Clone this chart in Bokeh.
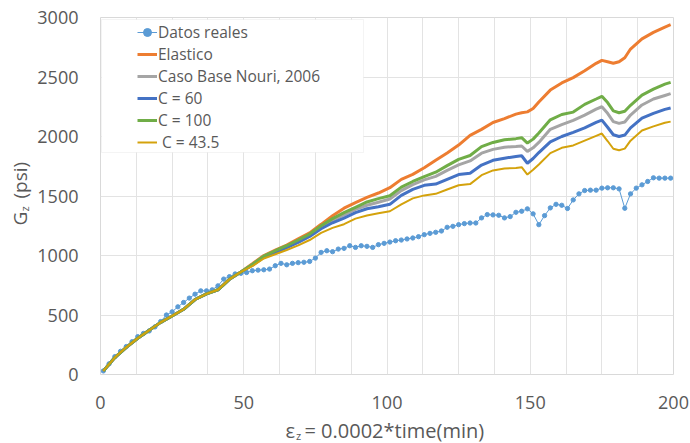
import math
from bokeh.plotting import figure
from bokeh.layouts import row, column
from bokeh.models import (Range1d, FixedTicker, Legend, LegendItem,
                          BoxAnnotation)
from bokeh.core.properties import value
from bokeh.embed import file_html
from bokeh.resources import INLINE

# ---------------- data ----------------
x_real = list(range(1, 200, 2))
g_real = [30, 90, 150, 195, 235, 275, 318, 345, 366, 400,
          445, 500, 527, 569, 605, 642, 675, 703, 703, 712,
          745, 802, 822, 845, 850, 857, 872, 877, 880, 886,
          914, 934, 922, 934, 940, 943, 950, 978, 1026, 1040,
          1032, 1054, 1060, 1082, 1068, 1082, 1077, 1068, 1091, 1102,
          1113, 1124, 1130, 1139, 1147, 1158, 1175, 1186, 1195, 1206,
          1237, 1245, 1259, 1268, 1273, 1273, 1316, 1344, 1341, 1338,
          1316, 1327, 1363, 1372, 1392, 1350, 1259, 1335, 1400, 1430,
          1422, 1395, 1467, 1518, 1546, 1549, 1549, 1566, 1569, 1569,
          1560, 1397, 1518, 1566, 1594, 1622, 1653, 1650, 1650, 1650]

x_sim = [1, 5, 9, 13, 17, 21, 25, 29, 33, 37, 41, 45, 49,
         53, 57, 61, 65, 69, 73, 77, 81, 85, 89, 93, 97, 101, 105, 109,
         113, 117, 121, 125, 129, 133, 137, 141,
         145, 147, 149, 151, 153,
         157, 161, 165, 169, 173,
         175, 177, 179, 181, 183, 185,
         189, 193, 197, 199]

g_elastico = [30, 142, 228, 305, 372, 438, 492, 548, 630, 678, 712, 800, 862,
              930, 1000, 1045, 1088, 1140, 1190, 1262, 1335, 1398, 1445, 1488, 1525, 1570, 1640, 1682,
              1738, 1800, 1862, 1928, 2010, 2060, 2118, 2150,
              2188, 2200, 2207, 2235, 2290,
              2390, 2450, 2495, 2552, 2615,
              2640, 2628, 2615, 2628, 2662, 2735,
              2820, 2875, 2920, 2940]

g_nouri = [30, 142, 228, 305, 372, 438, 492, 548, 630, 678, 712, 800, 862,
           922, 992, 1035, 1076, 1122, 1170, 1240, 1295, 1342, 1388, 1422, 1448, 1475, 1545, 1596,
           1635, 1665, 1715, 1762, 1795, 1860, 1892, 1910,
           1916, 1920, 1875, 1905, 1950,
           2060, 2100, 2135, 2180, 2230,
           2250, 2195, 2125, 2110, 2122, 2180,
           2265, 2315, 2345, 2360]

g_c60 = [30, 142, 228, 305, 372, 438, 492, 548, 630, 678, 712, 800, 862,
         918, 985, 1025, 1066, 1110, 1160, 1225, 1275, 1314, 1360, 1393, 1410, 1430, 1505, 1556,
         1590, 1600, 1640, 1680, 1692, 1760, 1800, 1818,
         1832, 1838, 1775, 1815, 1865,
         1955, 2000, 2035, 2072, 2118,
         2138, 2078, 2015, 2000, 2012, 2072,
         2155, 2195, 2228, 2240]

g_c100 = [30, 142, 228, 305, 372, 438, 492, 548, 630, 678, 712, 800, 862,
          925, 995, 1040, 1082, 1130, 1180, 1250, 1310, 1360, 1405, 1450, 1478, 1502, 1575, 1622,
          1662, 1700, 1755, 1808, 1840, 1915, 1950, 1972,
          1982, 1990, 1945, 1978, 2030,
          2140, 2185, 2205, 2270, 2315,
          2338, 2285, 2215, 2200, 2212, 2262,
          2348, 2398, 2440, 2455]

g_c435 = [30, 142, 228, 305, 372, 438, 492, 548, 630, 678, 712, 800, 862,
          910, 975, 1010, 1046, 1085, 1130, 1190, 1232, 1263, 1310, 1336, 1355, 1372, 1430, 1480,
          1505, 1518, 1555, 1590, 1600, 1675, 1715, 1732,
          1736, 1742, 1680, 1720, 1765,
          1860, 1905, 1925, 1965, 2005,
          2025, 1962, 1897, 1885, 1898, 1965,
          2050, 2085, 2115, 2125]

series_names = ["Datos reales", "Elastico", "Caso Base Nouri, 2006",
                "C = 60", "C = 100", " C = 43.5"]
x_ticks = [0, 50, 100, 150, 200]
y_ticks = [0, 500, 1000, 1500, 2000, 2500, 3000]
x_grid = [i * 12.5 for i in range(17)]

# ---------------- style ----------------
FONT = "Open Sans"
TXT = "#595959"
GRID = "#e3e3e3"
LEFT = 67
RIGHT = 17

p = figure(width=657, height=418, output_backend="svg", toolbar_location=None,
           x_range=Range1d(0, 200), y_range=Range1d(0, 3000),
           min_border_left=LEFT, min_border_right=RIGHT,
           min_border_top=17, min_border_bottom=44)
p.background_fill_color = "white"
p.border_fill_color = "white"
p.outline_line_color = "#d9d9d9"

for ax in (p.xaxis[0], p.yaxis[0]):
    ax.axis_line_color = None
    ax.major_tick_line_color = None
    ax.minor_tick_line_color = None
    ax.major_tick_out = 0
    ax.major_tick_in = 0
    ax.minor_tick_out = 0
    ax.minor_tick_in = 0
    ax.major_label_text_font = FONT
    ax.major_label_text_font_size = "18px"
    ax.major_label_text_color = TXT
p.xaxis.major_label_standoff = 21
p.yaxis.major_label_standoff = 22

p.xaxis.ticker = FixedTicker(ticks=x_ticks)
p.yaxis.ticker = FixedTicker(ticks=y_ticks)
p.xgrid.ticker = FixedTicker(ticks=x_grid)
p.ygrid.ticker = FixedTicker(ticks=y_ticks)
p.xgrid.grid_line_color = GRID
p.ygrid.grid_line_color = GRID

r_real_l = p.line(x_real, g_real, line_color="#5B9BD5", line_width=1)
r_real_m = p.scatter(x_real, g_real, size=4.3, fill_color="#5B9BD5",
                     line_color="#5B9BD5", marker="circle")
r_el = p.line(x_sim, g_elastico, line_color="#ED7D31", line_width=3)
r_no = p.line(x_sim, g_nouri, line_color="#A5A5A5", line_width=3)
r_60 = p.line(x_sim, g_c60, line_color="#4472C4", line_width=3)
r_100 = p.line(x_sim, g_c100, line_color="#70AD47", line_width=3)
r_435 = p.line(x_sim, g_c435, line_color="#D4A20C", line_width=2)

# legend box
box = BoxAnnotation(left=1, right=263, top=355, bottom=222,
                    left_units="screen", right_units="screen",
                    top_units="screen", bottom_units="screen",
                    fill_color="white", fill_alpha=1.0,
                    line_color="#d9d9d9", line_width=1)
p.add_layout(box)

items = [LegendItem(label=series_names[0], renderers=[r_real_l, r_real_m]),
         LegendItem(label=series_names[1], renderers=[r_el]),
         LegendItem(label=series_names[2], renderers=[r_no]),
         LegendItem(label=series_names[3], renderers=[r_60]),
         LegendItem(label=series_names[4], renderers=[r_100]),
         LegendItem(label=series_names[5], renderers=[r_435])]
leg = Legend(items=items, location=(37, 221), padding=0, margin=0,
             spacing=0, glyph_width=20, glyph_height=20, label_height=20,
             label_standoff=1, border_line_color=None,
             background_fill_alpha=0.0,
             label_text_font=FONT, label_text_font_size="15.5px",
             label_text_color=TXT)
p.add_layout(leg, "center")


def text_fig(w, h, xr, yr, **borders):
    f = figure(width=w, height=h, output_backend="svg", toolbar_location=None,
               x_range=xr, y_range=yr,
               x_axis_location=None, y_axis_location=None,
               min_border=0, **borders)
    f.grid.visible = False
    f.outline_line_color = None
    f.background_fill_color = "white"
    f.border_fill_color = "white"
    return f


# x-axis title: "εz = 0.0002*time(min)" (z as subscript); same x frame as p
xl = text_fig(657, 25, Range1d(0, 200), Range1d(0, 25),
              min_border_left=LEFT, min_border_right=RIGHT,
              min_border_top=0, min_border_bottom=0)
xl.text(x=[64.6], y=[13], text=["ε"], text_font=value(FONT),
        text_font_size="20px", text_color=TXT,
        text_align="left", text_baseline="middle")
xl.text(x=[68.2], y=[8], text=["z"], text_font=value(FONT),
        text_font_size="11px", text_color=TXT,
        text_align="left", text_baseline="middle")
xl.text(x=[71.2], y=[13], text=["= 0.0002*time(min)"], text_font=value(FONT),
        text_font_size="20px", text_color=TXT,
        text_align="left", text_baseline="middle")

# y-axis title: "Gz (psi)" rotated
yl = text_fig(33, 443, Range1d(0, 33), Range1d(0, 443),
              min_border_left=0, min_border_right=0,
              min_border_top=0, min_border_bottom=0)
yl.text(x=[19], y=[218], text=["G"], text_font=value(FONT),
        text_font_size="19px", text_color=TXT, angle=math.pi / 2,
        text_align="left", text_baseline="middle")
yl.text(x=[24], y=[232], text=["z"], text_font=value(FONT),
        text_font_size="11px", text_color=TXT, angle=math.pi / 2,
        text_align="left", text_baseline="middle")
yl.text(x=[19], y=[245], text=["(psi)"], text_font=value(FONT),
        text_font_size="19px", text_color=TXT, angle=math.pi / 2,
        text_align="left", text_baseline="middle")

layout = row(yl, column(p, xl, spacing=0), spacing=0)
open("out.html", "w").write(file_html(layout, INLINE))
